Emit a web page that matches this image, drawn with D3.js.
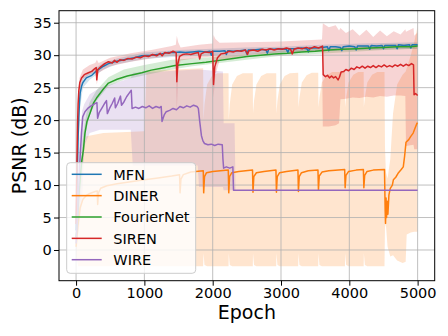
<!DOCTYPE html>
<html>
<head>
<meta charset="utf-8">
<script src="https://cdn.jsdelivr.net/npm/d3@7"></script>
<style>
  body { margin: 0; background: #fff; }
  text { font-family: "DejaVu Sans", sans-serif; }
</style>
</head>
<body>
<svg id="chart" width="448" height="336"></svg>
<script>
const seriesNames = ['MFN', 'DINER', 'FourierNet', 'SIREN', 'WIRE'];
const seriesColors = ['#1f77b4', '#ff7f0e', '#2ca02c', '#d62728', '#9467bd'];
const xTicks = [0, 1000, 2000, 3000, 4000, 5000];
const yTicks = [0, 5, 10, 15, 20, 25, 30, 35];

// mean curves, [epoch, psnr]
const mfnLine = [[0,3],[10,8],[20,13],[30,17.5],[40,20.5],[50,22.8],[60,24.2],[80,25.2],[100,25.8],[150,26.5],[230,26.9],[300,27.6],[400,28.3],[474,28.7],[560,29.0],[700,29.3],[850,29.6],[960,29.9],[1100,30.0],[1250,30.2],[1350,30.4],[1450,30.4],[1520,30.5],[1600,30.4],[1700,30.5],[1800,30.6],[1900,30.5],[1960,30.6],[1980,30.0],[2000,30.6],[2100,30.6],[2180,30.7],[2200,30.1],[2220,30.7],[2300,30.6],[2400,30.7],[2480,30.8],[2500,30.2],[2520,30.8],[2600,30.8],[2700,30.9],[2780,30.8],[2800,30.3],[2820,30.9],[2900,30.9],[3000,31.0],[3080,30.9],[3100,30.4],[3120,31.0],[3200,31.0],[3300,31.1],[3380,31.0],[3400,30.5],[3420,31.1],[3500,31.1],[3600,31.2],[3680,31.3],[3700,30.7],[3720,31.3],[3800,31.3],[3870,31.2],[3890,30.7],[3910,31.3],[4000,31.4],[4080,31.3],[4100,30.8],[4120,31.4],[4200,31.4],[4280,31.4],[4300,30.9],[4320,31.5],[4400,31.4],[4480,31.5],[4500,31.0],[4520,31.5],[4600,31.5],[4680,31.5],[4700,31.0],[4720,31.6],[4800,31.5],[4880,31.6],[4900,31.1],[4920,31.6],[5000,31.6]];

const dinerLine = [[0,0.5],[30,4],[60,6.5],[100,7.8],[150,8.4],[200,8.7],[280,9.0],[310,9.1],[316,7.0],[328,8.8],[360,9.5],[450,9.9],[600,10.2],[800,10.5],[1000,10.8],[1200,11.1],[1400,11.4],[1515,11.6],[1522,8.8],[1535,10.9],[1570,11.6],[1680,12.0],[1862,12.2],[1868,8.8],[1880,11.3],[1910,11.9],[2000,12.1],[2228,12.3],[2235,8.8],[2247,11.3],[2280,11.9],[2380,12.1],[2583,12.3],[2590,8.9],[2602,11.3],[2640,11.9],[2750,12.1],[2926,12.3],[2933,8.9],[2945,11.3],[2980,11.9],[3080,12.1],[3248,12.3],[3255,9.0],[3267,11.3],[3300,11.9],[3400,12.2],[3541,12.3],[3548,9.2],[3560,11.4],[3600,12.0],[3700,12.2],[3932,12.4],[3939,9.6],[3951,11.5],[3990,12.1],[4100,12.3],[4206,12.4],[4213,9.6],[4225,11.5],[4260,12.1],[4350,12.3],[4515,12.4],[4525,6.0],[4530,4.1],[4538,8.0],[4545,5.0],[4555,7.5],[4565,5.5],[4580,8.5],[4600,9.5],[4630,10.0],[4645,10.8],[4680,11.2],[4720,11.9],[4760,12.4],[4790,12.8],[4810,14.5],[4830,16.6],[4870,17.0],[4900,17.5],[4935,18.0],[4960,18.7],[4990,19.5],[5000,19.6]];

const fourierLine = [[0,2],[20,4],[34,7.7],[60,11],[80,13.5],[107,15.4],[130,18.0],[160,19.8],[205,21.1],[254,22.6],[300,23.4],[400,24.8],[474,25.7],[600,26.3],[750,26.8],[962,27.3],[1100,27.7],[1250,28.0],[1450,28.4],[1700,28.7],[1900,28.9],[2100,29.2],[2300,29.5],[2500,29.8],[2700,30.0],[2900,30.2],[3100,30.3],[3300,30.5],[3500,30.6],[3700,30.8],[3900,30.9],[4100,31.0],[4300,31.1],[4500,31.2],[4700,31.3],[4900,31.3],[5000,31.4]];

const sirenLine = [[0,4],[8,10],[15,15],[22,19.5],[30,22.5],[40,24.5],[55,25.8],[80,26.5],[120,27.0],[180,27.3],[230,27.5],[270,27.9],[295,28.1],[303,26.2],[318,27.8],[360,28.2],[420,28.7],[474,29.0],[530,28.8],[560,29.2],[600,28.9],[640,29.3],[700,29.2],[760,29.5],[820,29.4],[880,29.7],[940,29.6],[1000,29.9],[1060,29.8],[1120,30.1],[1180,29.9],[1230,30.3],[1260,29.9],[1300,30.4],[1360,30.3],[1420,30.6],[1465,30.4],[1475,25.9],[1488,28.6],[1515,29.8],[1560,30.1],[1620,30.2],[1680,30.1],[1740,30.3],[1790,30.4],[1810,29.4],[1830,30.2],[1890,30.5],[1950,30.4],[2000,30.6],[2012,25.5],[2030,28.2],[2070,29.6],[2120,30.2],[2180,30.3],[2240,30.6],[2300,30.5],[2360,30.7],[2420,30.6],[2480,30.8],[2510,30.1],[2530,30.7],[2600,30.8],[2660,30.6],[2720,30.9],[2780,30.8],[2840,31.0],[2900,30.8],[2960,31.0],[3020,30.9],[3080,31.1],[3140,30.9],[3165,30.2],[3190,30.9],[3250,31.1],[3310,31.0],[3370,31.2],[3430,31.0],[3490,31.3],[3550,31.1],[3608,31.4],[3618,27.0],[3650,26.7],[3680,26.9],[3710,26.5],[3740,26.8],[3770,26.5],[3800,26.7],[3835,26.2],[3855,26.6],[3880,27.4],[3920,27.5],[3950,27.8],[3990,27.6],[4030,28.0],[4070,27.8],[4110,28.2],[4150,28.0],[4190,28.3],[4230,28.0],[4270,28.3],[4310,28.1],[4350,28.4],[4390,28.1],[4430,28.4],[4470,28.2],[4510,28.5],[4550,28.2],[4590,28.4],[4630,28.2],[4670,28.5],[4710,28.3],[4750,28.6],[4790,28.3],[4830,28.6],[4870,28.4],[4910,28.7],[4940,28.5],[4948,23.9],[4970,24.1],[5000,23.8]];

const wireLine = [[0,1],[20,5],[40,10],[60,14.5],[80,18],[97,20.5],[130,21.3],[170,21.8],[220,22.2],[270,22.5],[305,22.7],[315,20.3],[340,21.2],[380,21.9],[420,22.6],[445,23.0],[458,21.0],[490,21.8],[530,22.6],[565,23.4],[575,21.9],[610,22.6],[650,23.7],[665,22.3],[700,22.8],[740,23.6],[780,24.2],[808,24.6],[820,21.8],[870,22.0],[920,21.8],[970,22.1],[1020,21.9],[1070,22.2],[1120,21.8],[1170,22.1],[1220,21.9],[1246,22.1],[1258,19.8],[1290,20.8],[1320,21.3],[1370,21.5],[1420,21.8],[1470,21.6],[1520,22.1],[1570,21.9],[1620,22.2],[1670,22.0],[1720,22.3],[1770,22.1],[1790,21.8],[1810,19.8],[1835,17.6],[1857,16.8],[1880,16.4],[1930,16.2],[1980,16.3],[2030,16.1],[2080,16.3],[2140,16.2],[2150,14.0],[2160,12.6],[2200,12.8],[2250,12.6],[2295,12.8],[2305,9.2],[5000,9.2]];

// min / max envelopes, [epoch, low, high]
const mfnBand = [[0,0,8],[20,8,18],[40,17,23],[60,22,25.2],[100,25,26.6],[200,26.2,27.5],[400,27.8,28.8],[600,28.6,29.5],[1000,29.4,30.4],[1500,29.8,30.8],[2000,30.0,31.0],[2500,30.2,31.2],[3000,30.4,31.3],[3600,30.6,31.6],[4200,30.8,31.8],[5000,31.0,32.0]];

const dinerBand = [[0,-1,2],[30,-2.5,6],[60,-2.5,11],[100,-2.5,15.5],[150,-2.5,17.5],[400,-2.5,18],[1000,-2.5,18.3],[1030,-2.5,27.6],[1860,-2.5,28],
  [1866,-0.5,20],[1880,-2.3,22.5],[1918,-2.5,25.5],[1988,-2.5,26.8],[2070,-2.5,27.2],
  [2232,-2.5,27.2],[2235,-0.5,20],[2250,-2.3,22.5],[2285,-2.5,25.5],[2355,-2.5,26.8],[2440,-2.5,27.2],
  [2587,-2.5,27.2],[2590,-0.5,21],[2605,-2.3,23],[2640,-2.5,25.5],[2710,-2.5,26.8],[2790,-2.5,27.2],
  [2930,-2.5,27.2],[2933,-0.5,21],[2948,-2.3,23],[2983,-2.5,25.5],[3053,-2.5,26.8],[3130,-2.5,27.2],
  [3252,-2.5,27.3],[3255,-0.5,22],[3270,-2.3,23.5],[3305,-2.5,25.8],[3375,-2.5,26.9],[3450,-2.5,27.3],
  [3545,-2.5,27.3],[3548,-0.5,22],[3563,-2.3,23.5],[3598,-2.5,25.8],[3668,-2.5,26.9],[3750,-2.5,27.4],
  [3936,-2.5,27.4],[3939,-0.5,22],[3954,-2.3,23.5],[3989,-2.5,25.8],[4059,-2.5,27],[4130,-2.5,27.4],
  [4210,-2.5,27.4],[4213,-0.5,22],[4228,-2.3,23.5],[4263,-2.5,25.8],[4333,-2.5,27],[4410,-2.5,27.4],
  [4515,-2.5,27.4],[4522,3.5,16],[4535,4,12],[4560,0.5,11],[4600,-1,14],[4640,-0.8,21],[4700,-1.6,25.5],[4780,-2,27],[4825,-1.8,27.5],[4840,2.4,28],[4900,2.7,30],[4950,2.8,32],[5000,2.8,34.5]];

const fourierBand = [[0,0,4],[50,6,11],[100,13.5,17.5],[150,18.5,21],[200,20.8,22.8],[300,23.0,24.6],[474,25.2,26.6],[700,26.2,27.8],[1000,26.9,28.5],[1400,27.8,29.3],[1700,28.3,29.5],[2100,28.8,29.8],[2500,29.3,30.2],[3000,29.9,30.7],[3500,30.2,31.0],[4000,30.5,31.3],[4500,30.8,31.6],[5000,31.0,31.8]];

const sirenBand = [[0,0,10],[15,10,19],[30,20,24],[50,24.5,26.5],[100,26.3,27.8],[200,27.0,28.5],[280,27.4,28.8],[305,25.5,29.3],[330,27.3,28.8],[500,28.3,29.6],[800,29.0,30.3],[1100,29.5,30.8],[1400,29.9,31.4],[1460,29.8,31.6],[1475,21.5,33.0],[1495,27.5,32.0],[1530,29.2,31.2],[1800,29.6,31.6],[2000,29.8,31.8],[2012,23.5,33.1],[2040,27.0,32.5],[2100,29.2,31.9],[2500,30.0,32.0],[3000,30.4,32.1],[3600,30.6,32.4],[3612,19.0,34.9],[3700,19.0,34.3],[3800,19.2,34.6],[3850,19.5,33.8],[3870,23.2,34.2],[3950,23.3,33.4],[4050,23.5,34.0],[4150,23.4,33.0],[4250,23.6,33.9],[4350,23.5,32.8],[4450,23.7,33.8],[4550,23.6,32.9],[4650,23.8,33.7],[4750,23.8,33.2],[4820,23.7,34.0],[4830,16.0,33.6],[4940,16.2,34.2],[4950,15.5,33.0],[5000,15.5,33.5]];

const wireBand = [[0,-2,3],[20,1.5,10],[50,4,17],[90,7.7,21.5],[120,16,22.5],[200,18,24],[350,18.5,25],[600,18.5,25.8],[800,18.5,26.5],[830,13,27.3],[1250,13,27.5],[1780,13,27.8],[1800,9.7,27.8],[2150,9.7,27.5],[2160,9.2,19.5],[2320,9.2,19.5],[2335,9.2,9.2],[5000,9.2,9.2]];

const lines = [mfnLine, dinerLine, fourierLine, sirenLine, wireLine];
const bands = [mfnBand, dinerBand, fourierBand, sirenBand, wireBand];

const svg = d3.select('#chart');
const plot = { left: 59, right: 434.7, top: 10.7, bottom: 280.7 };

const x = d3.scaleLinear().domain([-250, 5250]).range([plot.left, plot.right]);
const y = d3.scaleLinear().domain([-4.73, 36.85]).range([plot.bottom, plot.top]);

svg.append('defs').append('clipPath').attr('id', 'clip')
  .append('rect')
  .attr('x', plot.left).attr('y', plot.top)
  .attr('width', plot.right - plot.left).attr('height', plot.bottom - plot.top);

// fills first (zorder 1)
const bandG = svg.append('g').attr('clip-path', 'url(#clip)');
const area = d3.area().x(d => x(d[0])).y0(d => y(d[1])).y1(d => y(d[2]));
bands.forEach((b, i) => {
  bandG.append('path')
    .attr('d', area(b))
    .attr('fill', seriesColors[i])
    .attr('fill-opacity', 0.2);
});

// grid above fills, below lines
const grid = svg.append('g');
grid.selectAll('.gx').data(xTicks).enter().append('line')
  .attr('x1', d => x(d)).attr('x2', d => x(d))
  .attr('y1', plot.top).attr('y2', plot.bottom)
  .attr('stroke', '#b0b0b0').attr('stroke-width', 1).attr('stroke-opacity', 0.8);
grid.selectAll('.gy').data(yTicks).enter().append('line')
  .attr('x1', plot.left).attr('x2', plot.right)
  .attr('y1', d => y(d)).attr('y2', d => y(d))
  .attr('stroke', '#b0b0b0').attr('stroke-width', 1).attr('stroke-opacity', 0.8);

const lineG = svg.append('g').attr('clip-path', 'url(#clip)');
const line = d3.line().x(d => x(d[0])).y(d => y(d[1]));
lines.forEach((l, i) => {
  lineG.append('path')
    .attr('d', line(l))
    .attr('fill', 'none')
    .attr('stroke', seriesColors[i])
    .attr('stroke-width', 1.5)
    .attr('stroke-linejoin', 'round');
});

// axes
const xAxis = svg.append('g')
  .attr('transform', `translate(0, ${plot.bottom})`)
  .call(d3.axisBottom(x).tickValues(xTicks).tickSize(5).tickPadding(2).tickFormat(d3.format('d')));
const yAxis = svg.append('g')
  .attr('transform', `translate(${plot.left}, 0)`)
  .call(d3.axisLeft(y).tickValues(yTicks).tickSize(5).tickPadding(2.3).tickFormat(d3.format('d')));
[xAxis, yAxis].forEach(a => {
  a.select('.domain').remove();
  a.selectAll('line').attr('stroke', '#000').attr('stroke-width', 1);
  a.selectAll('text').attr('font-size', '14.5px').attr('fill', '#000')
    .attr('font-family', '"DejaVu Sans", sans-serif');
});

svg.append('rect')
  .attr('x', plot.left).attr('y', plot.top)
  .attr('width', plot.right - plot.left).attr('height', plot.bottom - plot.top)
  .attr('fill', 'none').attr('stroke', '#000').attr('stroke-width', 1);

svg.append('text')
  .attr('x', (plot.left + plot.right) / 2).attr('y', 319)
  .attr('text-anchor', 'middle').attr('font-size', '19px')
  .text('Epoch');
svg.append('text')
  .attr('transform', `translate(19.5, ${(plot.top + plot.bottom) / 2}) rotate(-90)`)
  .attr('text-anchor', 'middle').attr('dy', '0.35em').attr('font-size', '19px')
  .text('PSNR (dB)');

// legend
const legend = svg.append('g');
legend.append('rect')
  .attr('x', 66.7).attr('y', 162.7).attr('width', 129).attr('height', 110.6)
  .attr('rx', 3.5)
  .attr('fill', '#fff').attr('fill-opacity', 0.8)
  .attr('stroke', '#cccccc').attr('stroke-width', 1);
const legendY = d3.scalePoint().domain(seriesNames).range([174.3, 259.7]);
seriesNames.forEach((name, i) => {
  const ly = legendY(name);
  legend.append('line')
    .attr('x1', 71.7).attr('x2', 101.7).attr('y1', ly).attr('y2', ly)
    .attr('stroke', seriesColors[i]).attr('stroke-width', 1.5);
  legend.append('text')
    .attr('x', 113.3).attr('y', ly).attr('dy', '0.36em')
    .attr('font-size', '14.5px')
    .text(name);
});
</script>
</body>
</html>
